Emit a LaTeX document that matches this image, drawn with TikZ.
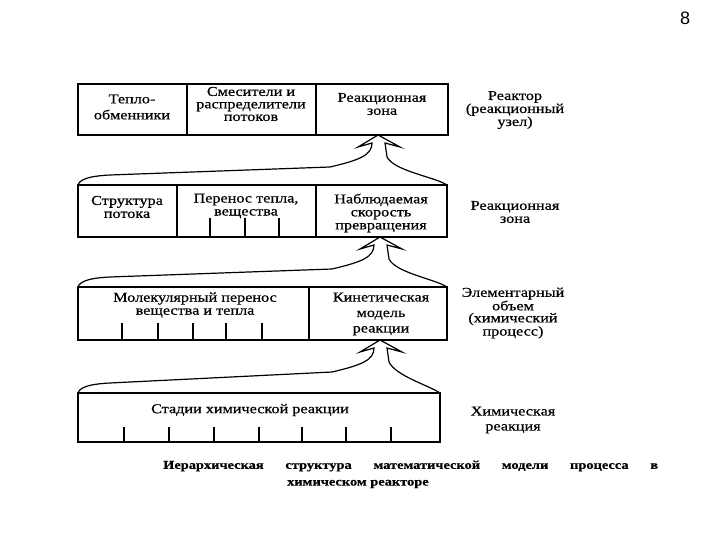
\documentclass[tikz,border=0pt]{standalone}
\usepackage{fontspec}
\setmainfont{Liberation Serif}[FakeStretch=1.2, FakeBold=0.6]
\newfontfamily\pagefont{Liberation Sans}
\usetikzlibrary{calc}
\tikzset{
  blk/.style={draw, line width=1.3pt, anchor=north west, inner sep=0pt, outer sep=0pt},
  sep/.style={line width=1.3pt},
  tick/.style={line width=1.4pt},
  arr/.style={line width=1.2pt, line join=miter},
  txt/.style={inner sep=0pt, align=center, font=\fontsize{13.5}{13}\selectfont},
  lbl/.style={inner sep=0pt, align=center, font=\fontsize{13.5}{13}\selectfont},
  captxt/.style={inner sep=0pt, anchor=west, font=\bfseries\fontsize{12}{14}\selectfont},
}
\newcommand\hollowup[3]{%
  \draw[arr] (#2) .. controls ($(#2)+(2,-6)$) and ($(#2)+(12,-9)$) .. ($(#2)+(32,-10)$)
    -- ($(#1)+(-48,32)$) .. controls ($(#1)+(-18,25)$) and ($(#1)+(-6,20)$) .. ($(#1)+(-6,8)$)
    -- ($(#1)+(-20,12)$) -- (#1) -- ($(#1)+(22,12)$) -- ($(#1)+(7,8)$)
    -- ($(#1)+(9,22)$) .. controls ($(#1)+(16,36)$) and ($(#3)+(-12,-8)$) .. (#3);}
\begin{document}
\begin{tikzpicture}[x=1pt, y=-1pt]
\useasboundingbox (0,0) rectangle (720,540);

% page number
\node[inner sep=0pt, font=\pagefont\fontsize{18}{18}\selectfont] (pg) at (685,18) {8};

% boxes
\node[blk, minimum width=370pt, minimum height=51pt] (b1) at (78,84) {};
\node[blk, minimum width=369pt, minimum height=52pt] (b2) at (78,185) {};
\node[blk, minimum width=369pt, minimum height=53pt] (b3) at (78,287) {};
\node[blk, minimum width=362pt, minimum height=49pt] (b4) at (78,393) {};

% dividers
\draw[sep] (187,84) -- (187,135);
\draw[sep] (316,84) -- (316,135);
\draw[sep] (177,185) -- (177,237);
\draw[sep] (316,185) -- (316,237);
\draw[sep] (309,287) -- (309,340);

% ticks
\foreach \x in {210,245,279} \draw[tick] (\x,218) -- (\x,237);
\foreach \x in {122,158,193,226,262} \draw[tick] (\x,323) -- (\x,340);
\foreach \x in {124,169,214,259,302,346,391} \draw[tick] (\x,427) -- (\x,442);

% box texts
\node[txt, font=\fontsize{13.5}{16}\selectfont] (t11) at (132,107) {Тепло-\\обменники};
\node[txt, font=\fontsize{13.5}{12.5}\selectfont] (t12) at (251,104) {Смесители и\\распределители\\потоков};
\node[txt] (t13) at (382,104) {Реакционная\\зона};

\node[txt] (t21) at (127,207) {Структура\\потока};
\node[txt] (t22) at (246,206) {Перенос тепла,\\вещества};
\node[txt] (t23) at (381,213) {Наблюдаемая\\скорость\\превращения};

\node[txt] (t31) at (195,305) {Молекулярный перенос\\вещества и тепла};
\node[txt, font=\fontsize{13.5}{15.5}\selectfont] (t32) at (381,314) {Кинетическая\\модель\\реакции};

\node[txt] (t41) at (250,410) {Стадии химической реакции};

% right labels
\node[lbl] (r1) at (515,110) {Реактор\\(реакционный\\узел)};
\node[lbl] (r2) at (515,212) {Реакционная\\зона};
\node[lbl, font=\fontsize{13.5}{12}\selectfont] (r3) at (513,313) {Элементарный\\объем\\(химический\\процесс)};
\node[lbl, font=\fontsize{13.5}{15}\selectfont] (r4) at (513,420) {Химическая\\реакция};

% hollow arrows
\coordinate (a1) at (378,135);
\coordinate (a2) at (380,237);
\coordinate (a3) at (380,340);
\hollowup{a1}{b2.north west}{b2.north east}
\hollowup{a2}{b3.north west}{b3.north east}
\hollowup{a3}{b4.north west}{b4.north east}

% caption
\node[captxt] (cap1) at (163,466) {\makebox[495pt][s]{Иерархическая структура математической модели процесса в}};
\node[captxt] (cap2) at (287,484) {химическом реакторе};
\end{tikzpicture}
\end{document}
